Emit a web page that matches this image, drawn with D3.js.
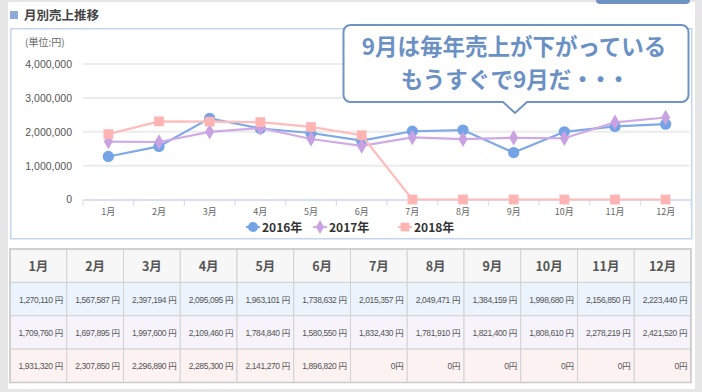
<!DOCTYPE html>
<html><head><meta charset="utf-8">
<script src="https://cdn.jsdelivr.net/npm/d3@7"></script>
<style>
html,body{margin:0;padding:0;background:#e6e6e6;}
svg{display:block;}
</style></head>
<body>
<svg id="c" width="702" height="392"></svg>
<script>
const months = ["1月","2月","3月","4月","5月","6月","7月","8月","9月","10月","11月","12月"];
const seriesNames = ["2016年","2017年","2018年"];
const sales2016 = [1270110,1567587,2397194,2095095,1963101,1738632,2015357,2049471,1384159,1998680,2156850,2223440];
const sales2017 = [1709760,1697895,1997600,2109460,1784840,1580550,1832430,1781910,1821400,1808610,2278219,2421520];
const sales2018 = [1931320,2307850,2296890,2285300,2141270,1896820,0,0,0,0,0,0];
const yTicks = [0,1000000,2000000,3000000,4000000];
const calloutLine1 = "9月は毎年売上が下がっている";
const calloutLine2 = "もうすぐで9月だ";
const calloutDots = "・・・";

const series = [
  {name: seriesNames[0], values: sales2016, color: "#74a3e6", line: "#7fa9e6", symbol: d3.symbolCircle, size: 100, row: "#ebf3fc"},
  {name: seriesNames[1], values: sales2017, color: "#c9a2e2", line: "#cfaae6", symbol: d3.symbolDiamond, size: 70, row: "#f6f3fb"},
  {name: seriesNames[2], values: sales2018, color: "#ffb4b4", line: "#ffbcbc", symbol: d3.symbolSquare, size: 95, row: "#fdf2f2"}
];

const JP = "'Noto Sans CJK JP','Noto Sans',sans-serif";
const NUM = "'Liberation Sans','Noto Sans CJK JP',sans-serif";
const svg = d3.select("#c");

// panel
svg.append("rect").attr("x",8).attr("y",2).attr("width",687).attr("height",387).attr("fill","#fff");
svg.append("rect").attr("x",596).attr("y",-6).attr("width",94).attr("height",10).attr("rx",4).attr("fill","#6f92c4");

// title
svg.append("rect").attr("x",10).attr("y",11).attr("width",8).attr("height",8).attr("fill","#8eaadb");
svg.append("text").attr("x",24).attr("y",20).attr("font-family",JP).attr("font-weight","bold")
  .attr("font-size",12.5).attr("fill","#444").text("月別売上推移");

// chart box
svg.append("rect").attr("x",10.75).attr("y",28.75).attr("width",681).attr("height",210)
  .attr("fill","#fff").attr("stroke","#c5d5ee").attr("stroke-width",1.5);

const x = d3.scaleBand().domain(months).range([83,691]);
const y = d3.scaleLinear().domain([0,4000000]).range([199.5,64]);

svg.append("text").attr("x",25).attr("y",46).attr("font-family",JP).attr("font-size",10)
  .attr("fill","#666").text("(単位:円)");

// grid
svg.append("g").selectAll("line").data(yTicks.filter(d=>d>0)).join("line")
  .attr("x1",83).attr("x2",690).attr("y1",d=>y(d)).attr("y2",d=>y(d))
  .attr("stroke","#ececec").attr("stroke-width",2);

// y axis labels
const yAxis = d3.axisLeft(y).tickValues(yTicks).tickFormat(d3.format(",")).tickSize(0).tickPadding(11);
const gy = svg.append("g").attr("transform","translate(83,0)").call(yAxis);
gy.select(".domain").remove();
gy.selectAll("text").attr("font-family",NUM).attr("font-size",10.5).attr("fill","#555");

// x axis
const xAxis = d3.axisBottom(x).tickSize(0).tickPadding(9);
const gx = svg.append("g").attr("transform","translate(0,199.5)").call(xAxis);
gx.select(".domain").attr("stroke","#ccd6eb").attr("stroke-width",1.5);
gx.selectAll("text").attr("font-family",JP).attr("font-size",9).attr("fill","#666");
gx.selectAll("line.bt").data(d3.range(13)).join("line").attr("class","bt")
  .attr("x1",i=>83+i*x.step()).attr("x2",i=>83+i*x.step()).attr("y1",0).attr("y2",6)
  .attr("stroke","#ccd6eb").attr("stroke-width",1);

// lines & markers
const line = d3.line().x((d,i)=>x(months[i])+x.bandwidth()/2).y(d=>y(d));
series.forEach(s=>{
  const g = svg.append("g");
  g.append("path").attr("d",line(s.values)).attr("fill","none").attr("stroke",s.line).attr("stroke-width",2.2);
  g.selectAll("path.m").data(s.values).join("path").attr("class","m")
    .attr("transform",(d,i)=>`translate(${x(months[i])+x.bandwidth()/2},${y(d)})`)
    .attr("d",d3.symbol().type(s.symbol).size(s.size)).attr("fill",s.color);
});

// legend
const legX = [253,320,405];
series.forEach((s,i)=>{
  const g = svg.append("g").attr("transform",`translate(${legX[i]},227)`);
  g.append("line").attr("x1",-7).attr("x2",7).attr("stroke",s.line).attr("stroke-width",2.2);
  g.append("path").attr("d",d3.symbol().type(s.symbol).size(s.size*0.8)).attr("fill",s.color);
  g.append("text").attr("x",9).attr("y",4.5).attr("font-family",JP).attr("font-weight","bold")
    .attr("font-size",12).attr("fill","#333").text(s.name);
});

// callout
const cx0=343.5, cy0=25, cx1=688.5, cy1=102, r=7, tipX=515, tipY=113, half=12;
const cp = d3.path();
cp.moveTo(cx0+r,cy0); cp.lineTo(cx1-r,cy0); cp.arcTo(cx1,cy0,cx1,cy0+r,r);
cp.lineTo(cx1,cy1-r); cp.arcTo(cx1,cy1,cx1-r,cy1,r);
cp.lineTo(tipX+half,cy1); cp.lineTo(tipX,tipY); cp.lineTo(tipX-half,cy1);
cp.lineTo(cx0+r,cy1); cp.arcTo(cx0,cy1,cx0,cy1-r,r);
cp.lineTo(cx0,cy0+r); cp.arcTo(cx0,cy0,cx0+r,cy0,r); cp.closePath();
svg.append("path").attr("d",cp.toString()).attr("fill","#fff").attr("stroke","#6f93c3").attr("stroke-width",2);
const ct = svg.append("g").attr("font-family",JP).attr("font-weight","bold").attr("font-size",22.5)
  .attr("fill","#6b91c4").attr("text-anchor","middle");
ct.append("text").attr("x",514).attr("y",55).text(calloutLine1);
const t2 = ct.append("text").attr("x",513).attr("y",88);
t2.append("tspan").text(calloutLine2);
t2.append("tspan").attr("letter-spacing","-4.5").text(calloutDots);

// table
const tx = d3.scaleBand().domain(months).range([10,691]);
const rows = ["head"].concat(series.map(s=>s.name));
const ty = d3.scaleBand().domain(rows).range([249,382.5]);
const tg = svg.append("g");
rows.forEach((r,ri)=>{
  const fill = ri===0 ? "#f7f7f7" : series[ri-1].row;
  tg.append("g").selectAll("rect").data(months).join("rect")
    .attr("x",d=>tx(d)).attr("y",ty(r)).attr("width",tx.bandwidth()).attr("height",ty.bandwidth())
    .attr("fill",fill).attr("stroke","#d2d2d2").attr("stroke-width",1);
});
tg.append("rect").attr("x",10).attr("y",249).attr("width",681).attr("height",133.5)
  .attr("fill","none").attr("stroke","#c9c9c9").attr("stroke-width",1.5);
tg.append("g").selectAll("text").data(months).join("text")
  .attr("x",d=>tx(d)+tx.bandwidth()/2).attr("y",ty("head")+ty.bandwidth()/2+5)
  .attr("text-anchor","middle").attr("font-family",JP).attr("font-weight","bold")
  .attr("font-size",12.5).attr("fill","#555").text(d=>d);
const fmt = d3.format(",");
series.forEach(s=>{
  tg.append("g").selectAll("text").data(s.values).join("text")
    .attr("x",(d,i)=>tx(months[i])+tx.bandwidth()-4).attr("y",ty(s.name)+ty.bandwidth()/2+3.5)
    .attr("text-anchor","end").attr("font-family",NUM).attr("font-size",8.5)
    .attr("letter-spacing","-0.4").attr("fill","#555")
    .text(d=> d===0 ? "0円" : fmt(d)+" 円");
});
</script>
</body></html>
